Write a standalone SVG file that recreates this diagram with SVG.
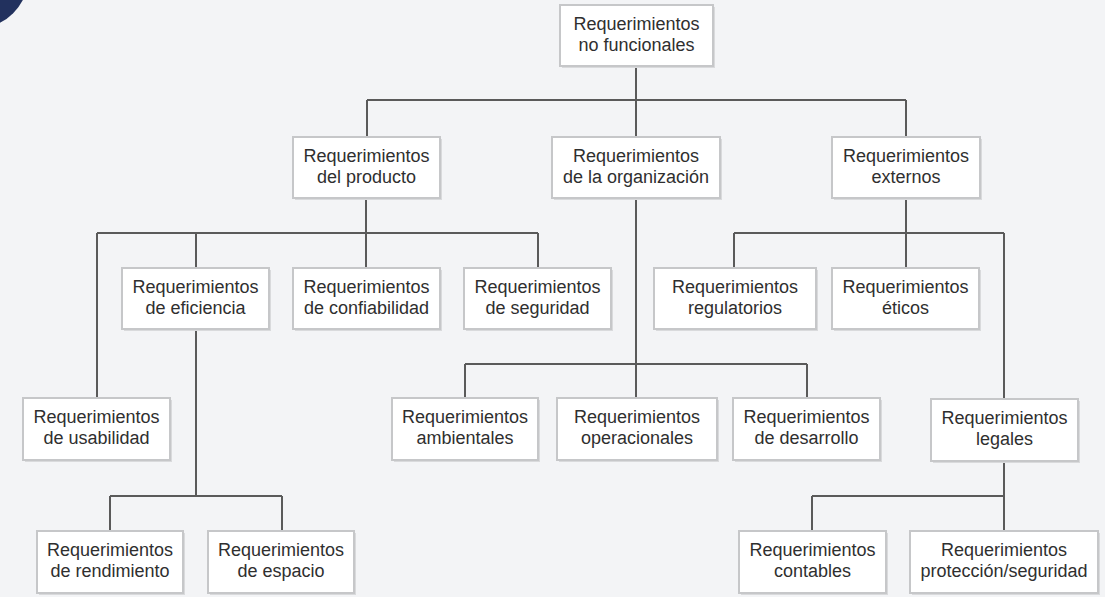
<svg xmlns="http://www.w3.org/2000/svg" width="1105" height="597" viewBox="0 0 1105 597">
<style>
.bg{fill:#f3f4f6}
.box{fill:#ffffff;stroke:#c6c7c9;stroke-width:2}
.sh{fill:#d9dadc}
.t{font-family:"Liberation Sans",Arial,sans-serif;font-size:18px;fill:#2f2f2f;text-anchor:middle}
.c{fill:none;stroke:#5a5a5a;stroke-width:2}
</style>
<rect class="bg" x="0" y="0" width="1105" height="597"/>
<circle cx="-25" cy="-25" r="54" fill="#22315e"/>
<g id="connectors">
<path class="c" d="M636,66 V100 M367,100 H906 M367,100 V137 M636,100 V137 M906,100 V137"/>
<path class="c" d="M366,198 V233 M97,233 H538 M97,233 V398 M196,233 V268 M366,233 V268 M538,233 V268"/>
<path class="c" d="M196,329 V496 M110,496 H282 M110,496 V531 M282,496 V531"/>
<path class="c" d="M636,198 V364 M465,364 H807 M465,364 V398 M636,364 V398 M807,364 V398"/>
<path class="c" d="M906,198 V233 M734,233 H1004 M734,233 V268 M906,233 V268 M1004,233 V398"/>
<path class="c" d="M1004,461 V496 M812,496 H1004 M812,496 V531 M1004,496 V531"/>
</g>
<g id="n-root"><rect class="sh" x="562" y="7" width="153" height="61"/><rect class="box" x="560" y="5" width="153" height="61"/><text class="t" x="636.5" y="30">Requerimientos</text><text class="t" x="636.5" y="51">no funcionales</text></g>
<g id="n-producto"><rect class="sh" x="295" y="139" width="147" height="61"/><rect class="box" x="293" y="137" width="147" height="61"/><text class="t" x="366.5" y="162">Requerimientos</text><text class="t" x="366.5" y="183">del producto</text></g>
<g id="n-organizacion"><rect class="sh" x="554" y="139" width="168" height="61"/><rect class="box" x="552" y="137" width="168" height="61"/><text class="t" x="636" y="162">Requerimientos</text><text class="t" x="636" y="183">de la organización</text></g>
<g id="n-externos"><rect class="sh" x="834" y="139" width="148" height="61"/><rect class="box" x="832" y="137" width="148" height="61"/><text class="t" x="906" y="162">Requerimientos</text><text class="t" x="906" y="183">externos</text></g>
<g id="n-eficiencia"><rect class="sh" x="124" y="270" width="147" height="61"/><rect class="box" x="122" y="268" width="147" height="61"/><text class="t" x="195.5" y="293">Requerimientos</text><text class="t" x="195.5" y="314">de eficiencia</text></g>
<g id="n-confiabilidad"><rect class="sh" x="295" y="270" width="147" height="61"/><rect class="box" x="293" y="268" width="147" height="61"/><text class="t" x="366.5" y="293">Requerimientos</text><text class="t" x="366.5" y="314">de confiabilidad</text></g>
<g id="n-seguridad"><rect class="sh" x="466" y="270" width="147" height="61"/><rect class="box" x="464" y="268" width="147" height="61"/><text class="t" x="537.5" y="293">Requerimientos</text><text class="t" x="537.5" y="314">de seguridad</text></g>
<g id="n-regulatorios"><rect class="sh" x="656" y="270" width="162" height="61"/><rect class="box" x="654" y="268" width="162" height="61"/><text class="t" x="735" y="293">Requerimientos</text><text class="t" x="735" y="314">regulatorios</text></g>
<g id="n-eticos"><rect class="sh" x="834" y="270" width="147" height="61"/><rect class="box" x="832" y="268" width="147" height="61"/><text class="t" x="905.5" y="293">Requerimientos</text><text class="t" x="905.5" y="314">éticos</text></g>
<g id="n-usabilidad"><rect class="sh" x="25" y="400" width="147" height="62"/><rect class="box" x="23" y="398" width="147" height="62"/><text class="t" x="96.5" y="423">Requerimientos</text><text class="t" x="96.5" y="444">de usabilidad</text></g>
<g id="n-ambientales"><rect class="sh" x="394" y="400" width="146" height="62"/><rect class="box" x="392" y="398" width="146" height="62"/><text class="t" x="465" y="423">Requerimientos</text><text class="t" x="465" y="444">ambientales</text></g>
<g id="n-operacionales"><rect class="sh" x="559" y="400" width="160" height="62"/><rect class="box" x="557" y="398" width="160" height="62"/><text class="t" x="637" y="423">Requerimientos</text><text class="t" x="637" y="444">operacionales</text></g>
<g id="n-desarrollo"><rect class="sh" x="735" y="400" width="147" height="62"/><rect class="box" x="733" y="398" width="147" height="62"/><text class="t" x="806.5" y="423">Requerimientos</text><text class="t" x="806.5" y="444">de desarrollo</text></g>
<g id="n-legales"><rect class="sh" x="933" y="401" width="147" height="62"/><rect class="box" x="931" y="399" width="147" height="62"/><text class="t" x="1004.5" y="424">Requerimientos</text><text class="t" x="1004.5" y="445">legales</text></g>
<g id="n-rendimiento"><rect class="sh" x="39" y="533" width="146" height="62"/><rect class="box" x="37" y="531" width="146" height="62"/><text class="t" x="110" y="556">Requerimientos</text><text class="t" x="110" y="577">de rendimiento</text></g>
<g id="n-espacio"><rect class="sh" x="210" y="533" width="146" height="62"/><rect class="box" x="208" y="531" width="146" height="62"/><text class="t" x="281" y="556">Requerimientos</text><text class="t" x="281" y="577">de espacio</text></g>
<g id="n-contables"><rect class="sh" x="741" y="533" width="147" height="62"/><rect class="box" x="739" y="531" width="147" height="62"/><text class="t" x="812.5" y="556">Requerimientos</text><text class="t" x="812.5" y="577">contables</text></g>
<g id="n-proteccion"><rect class="sh" x="912" y="533" width="188" height="62"/><rect class="box" x="910" y="531" width="188" height="62"/><text class="t" x="1004" y="556">Requerimientos</text><text class="t" x="1004" y="577">protección/seguridad</text></g>
</svg>
